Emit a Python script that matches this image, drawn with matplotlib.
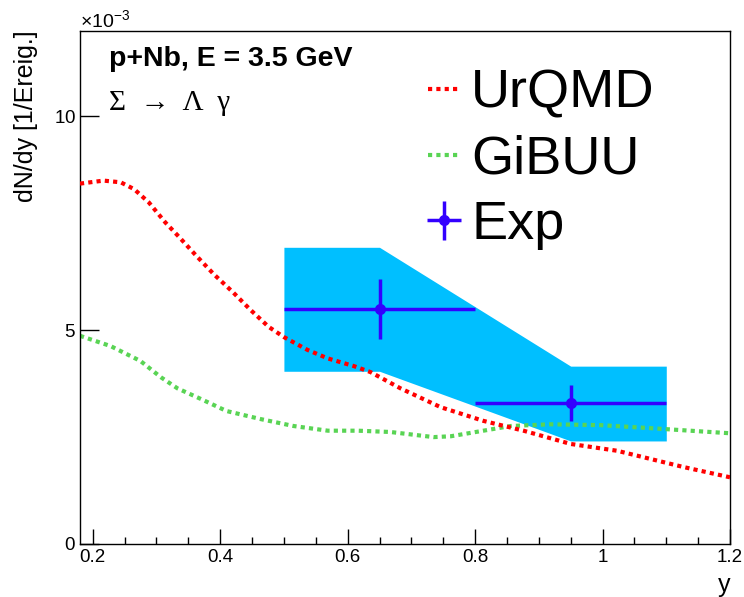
import numpy as np
import matplotlib
matplotlib.use('Agg')
import matplotlib.pyplot as plt
from matplotlib.ticker import MultipleLocator, ScalarFormatter
from matplotlib.container import ErrorbarContainer
from matplotlib.legend_handler import HandlerErrorbar

plt.rcParams['font.family'] = ['Liberation Sans', 'DejaVu Sans']
plt.rcParams['mathtext.fontset'] = 'custom'
plt.rcParams['mathtext.rm'] = 'Liberation Sans'
plt.rcParams['mathtext.it'] = 'Liberation Sans:italic'

# UrQMD model curve
urqmd_y = [0.18, 0.217, 0.244, 0.265, 0.288, 0.314, 0.335, 0.362, 0.39, 0.42, 0.448,
           0.476, 0.50, 0.537, 0.569, 0.61, 0.636, 0.683, 0.746, 0.813, 0.876,
           0.95, 1.023, 1.075, 1.127, 1.2]
urqmd_dndy = [8.43e-3, 8.50e-3, 8.46e-3, 8.30e-3, 7.99e-3, 7.52e-3, 7.19e-3, 6.75e-3, 6.31e-3, 5.89e-3, 5.47e-3,
              5.08e-3, 4.84e-3, 4.54e-3, 4.34e-3, 4.16e-3, 4.02e-3, 3.64e-3, 3.20e-3, 2.88e-3, 2.65e-3,
              2.34e-3, 2.18e-3, 1.99e-3, 1.80e-3, 1.56e-3]

# GiBUU model curve
gibuu_y = [0.18, 0.228, 0.275, 0.307, 0.333, 0.37, 0.41, 0.464, 0.515, 0.569,
           0.616, 0.667, 0.735, 0.762, 0.813, 0.856, 0.918, 0.997, 1.075, 1.2]
gibuu_dndy = [4.87e-3, 4.63e-3, 4.28e-3, 3.90e-3, 3.64e-3, 3.39e-3, 3.11e-3, 2.92e-3, 2.76e-3, 2.65e-3,
              2.65e-3, 2.62e-3, 2.50e-3, 2.52e-3, 2.65e-3, 2.76e-3, 2.80e-3, 2.78e-3, 2.71e-3, 2.59e-3]

# experiment
exp_y = [0.65, 0.95]
exp_dndy = [5.49e-3, 3.29e-3]
exp_yerr = [0.15, 0.15]
exp_stat = [0.70e-3, 0.42e-3]

# systematic band
sys_y = [0.5, 0.65, 0.95, 1.1]
sys_low = [4.04e-3, 4.04e-3, 2.41e-3, 2.41e-3]
sys_high = [6.94e-3, 6.94e-3, 4.16e-3, 4.16e-3]


def make_plot():
    fig = plt.figure(figsize=(7.44, 5.97), dpi=100)
    ax = fig.add_axes([0.1075, 0.0888, 0.8737, 0.8593])

    ax.fill_between(sys_y, sys_low, sys_high, color='#00BFFF', lw=0, zorder=1)

    l1, = ax.plot(urqmd_y, urqmd_dndy, color='#FF0000', lw=3,
                  linestyle=(0, (1, 1)), zorder=3, label='UrQMD')
    l2, = ax.plot(gibuu_y, gibuu_dndy, color='#59D454', lw=3,
                  linestyle=(0, (1, 1)), zorder=2, label='GiBUU')
    e1 = ax.errorbar(exp_y, exp_dndy, xerr=exp_yerr, yerr=exp_stat, fmt='o',
                     color='#3300FF', ms=7, elinewidth=2.5, capsize=0,
                     zorder=4, label='Exp')

    ax.set_xlim(0.18, 1.2)
    ax.set_ylim(0, 12e-3)

    ax.xaxis.set_major_locator(MultipleLocator(0.2))
    ax.xaxis.set_minor_locator(MultipleLocator(0.05))
    ax.yaxis.set_major_locator(MultipleLocator(5e-3))
    fmt = ScalarFormatter(useMathText=True)
    fmt.set_powerlimits((-3, -3))
    ax.yaxis.set_major_formatter(fmt)
    ax.yaxis.get_offset_text().set_fontsize(14)

    ax.tick_params(axis='x', which='major', direction='in', length=11, width=1,
                   labelsize=13.5, pad=3.5, top=False)
    ax.tick_params(axis='x', which='minor', direction='in', length=5, width=1, top=False)
    ax.tick_params(axis='y', which='major', direction='in', length=13.5, width=1,
                   labelsize=13.5, pad=3, right=False)
    ax.xaxis.set_major_formatter(plt.FuncFormatter(lambda v, p: '%g' % round(v, 2)))
    for s in ax.spines.values():
        s.set_linewidth(1)

    ax.set_ylabel('dN/dy [1/Ereig.]', fontsize=18, loc='top')
    ax.yaxis.set_label_coords(-0.065, 1.002)
    ax.set_xlabel('y', fontsize=18, loc='right')
    ax.xaxis.set_label_coords(1.0, -0.057)

    ax.text(0.045, 0.945, 'p+Nb, E = 3.5 GeV', transform=ax.transAxes,
            fontsize=20.5, fontweight='bold', ha='left', va='center')
    ax.text(0.045, 0.86, 'Σ  →  Λ  γ', transform=ax.transAxes,
            fontsize=21, ha='left', va='center',
            family=['Liberation Serif', 'DejaVu Serif'])

    ax.legend([l1, l2, e1], ['UrQMD', 'GiBUU', 'Exp'], loc='upper left',
              bbox_to_anchor=(0.535, 0.926), frameon=False, fontsize=39,
              handlelength=0.6, handletextpad=0.2, labelspacing=0.29,
              borderpad=0, borderaxespad=0,
              handler_map={ErrorbarContainer: HandlerErrorbar(xerr_size=0.31, yerr_size=0.36)})

    fig.savefig('out.png', dpi=100)


def main():
    make_plot()


if __name__ == '__main__':
    main()
